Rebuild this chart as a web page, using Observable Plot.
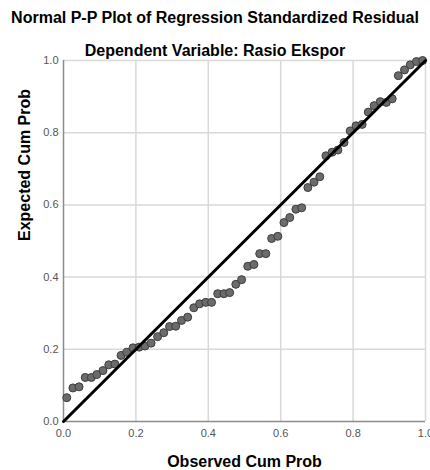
<!DOCTYPE html>
<html>
<head>
<meta charset="utf-8">
<script src="https://cdn.jsdelivr.net/npm/d3@7"></script>
<script src="https://cdn.jsdelivr.net/npm/@observablehq/plot@0.6"></script>
<style>
  html, body { margin: 0; padding: 0; background: #fff; overflow: hidden; }
  body { width: 430px; height: 470px; font-family: "Liberation Sans", Arial, sans-serif; }
  #header { position: relative; height: 52px; width: 430px; }
  .ttl { position: absolute; left: 0; width: 430px; text-align: center; font-weight: bold; font-size: 16px; line-height: 16px; color: #000; white-space: nowrap; }
  #chart svg { display: block; }
</style>
</head>
<body>
<div id="header">
  <div class="ttl" id="t1" style="top:9.5px"></div>
  <div class="ttl" id="t2" style="top:42.5px"></div>
</div>
<div id="chart"></div>
<script>
const title = "Normal P-P Plot of Regression Standardized Residual";
const subtitle = "Dependent Variable: Rasio Ekspor";
const xLabel = "Observed Cum Prob";
const yLabel = "Expected Cum Prob";
const tickValues = [0, 0.2, 0.4, 0.6, 0.8, 1.0];
const refLine = [0, 1];

const observed = [
  0.009, 0.026, 0.043, 0.060, 0.077, 0.092, 0.109, 0.125, 0.142, 0.159,
  0.175, 0.192, 0.209, 0.225, 0.242, 0.260, 0.277, 0.293, 0.310, 0.326,
  0.343, 0.360, 0.376, 0.393, 0.409, 0.426, 0.443, 0.459, 0.476, 0.492,
  0.509, 0.526, 0.542, 0.559, 0.575, 0.592, 0.609, 0.625, 0.642, 0.658,
  0.675, 0.692, 0.708, 0.725, 0.742, 0.758, 0.775, 0.792, 0.808, 0.825,
  0.842, 0.858, 0.875, 0.892, 0.908, 0.925, 0.942, 0.958, 0.975, 0.992
];
const expected = [
  0.066, 0.093, 0.096, 0.122, 0.122, 0.130, 0.141, 0.157, 0.159, 0.183,
  0.192, 0.204, 0.206, 0.209, 0.217, 0.235, 0.246, 0.263, 0.264, 0.280,
  0.289, 0.315, 0.326, 0.330, 0.330, 0.354, 0.354, 0.357, 0.380, 0.393,
  0.430, 0.435, 0.465, 0.465, 0.507, 0.513, 0.551, 0.565, 0.588, 0.592,
  0.648, 0.663, 0.678, 0.736, 0.746, 0.752, 0.773, 0.805, 0.819, 0.823,
  0.857, 0.875, 0.886, 0.884, 0.894, 0.958, 0.974, 0.988, 0.997, 1.000
];

document.getElementById("t1").textContent = title;
document.getElementById("t2").textContent = subtitle;

const pts = observed.map((x, i) => ({x, y: expected[i]}));

const chart = Plot.plot({
  width: 430,
  height: 418,
  marginTop: 8,
  marginBottom: 49,
  marginLeft: 63,
  marginRight: 5,
  style: {fontFamily: "Liberation Sans, Arial, sans-serif", fontSize: "11px", overflow: "visible"},
  x: {domain: [0, 1], ticks: tickValues, tickFormat: d3.format(".1f"), label: null, tickSize: 0, tickPadding: 8},
  y: {domain: [0, 1], ticks: tickValues, tickFormat: d3.format(".1f"), label: null, tickSize: 0, tickPadding: 5},
  marks: [
    Plot.ruleX(tickValues.slice(1), {stroke: "#d9d9d9", strokeWidth: 1.5}),
    Plot.ruleY(tickValues.slice(1), {stroke: "#d9d9d9", strokeWidth: 1.5}),
    Plot.ruleX([0], {stroke: "#8c8c8c", strokeWidth: 1.5}),
    Plot.ruleY([0], {stroke: "#8c8c8c", strokeWidth: 1.5}),
    Plot.axisX({ticks: tickValues, tickFormat: d3.format(".1f"), tickSize: 0, tickPadding: 8, fill: "#555", label: null}),
    Plot.axisY({ticks: tickValues, tickFormat: d3.format(".1f"), tickSize: 0, tickPadding: 5, fill: "#555", label: null}),
    Plot.dot(pts, {x: "x", y: "y", r: 4, fill: "#6b6b6b", stroke: "#3d3d3d", strokeWidth: 1}),
    Plot.line(refLine.map(v => ({v})), {x: "v", y: "v", stroke: "#000", strokeWidth: 3}),
    Plot.text([xLabel], {frameAnchor: "bottom", lineAnchor: "bottom", dy: 45, fontSize: 16, fontWeight: "bold", fill: "#000"}),
    Plot.text([yLabel], {frameAnchor: "left", lineAnchor: "bottom", rotate: -90, dx: -34, fontSize: 16, fontWeight: "bold", fill: "#000"})
  ]
});
document.getElementById("chart").appendChild(chart);
</script>
</body>
</html>
